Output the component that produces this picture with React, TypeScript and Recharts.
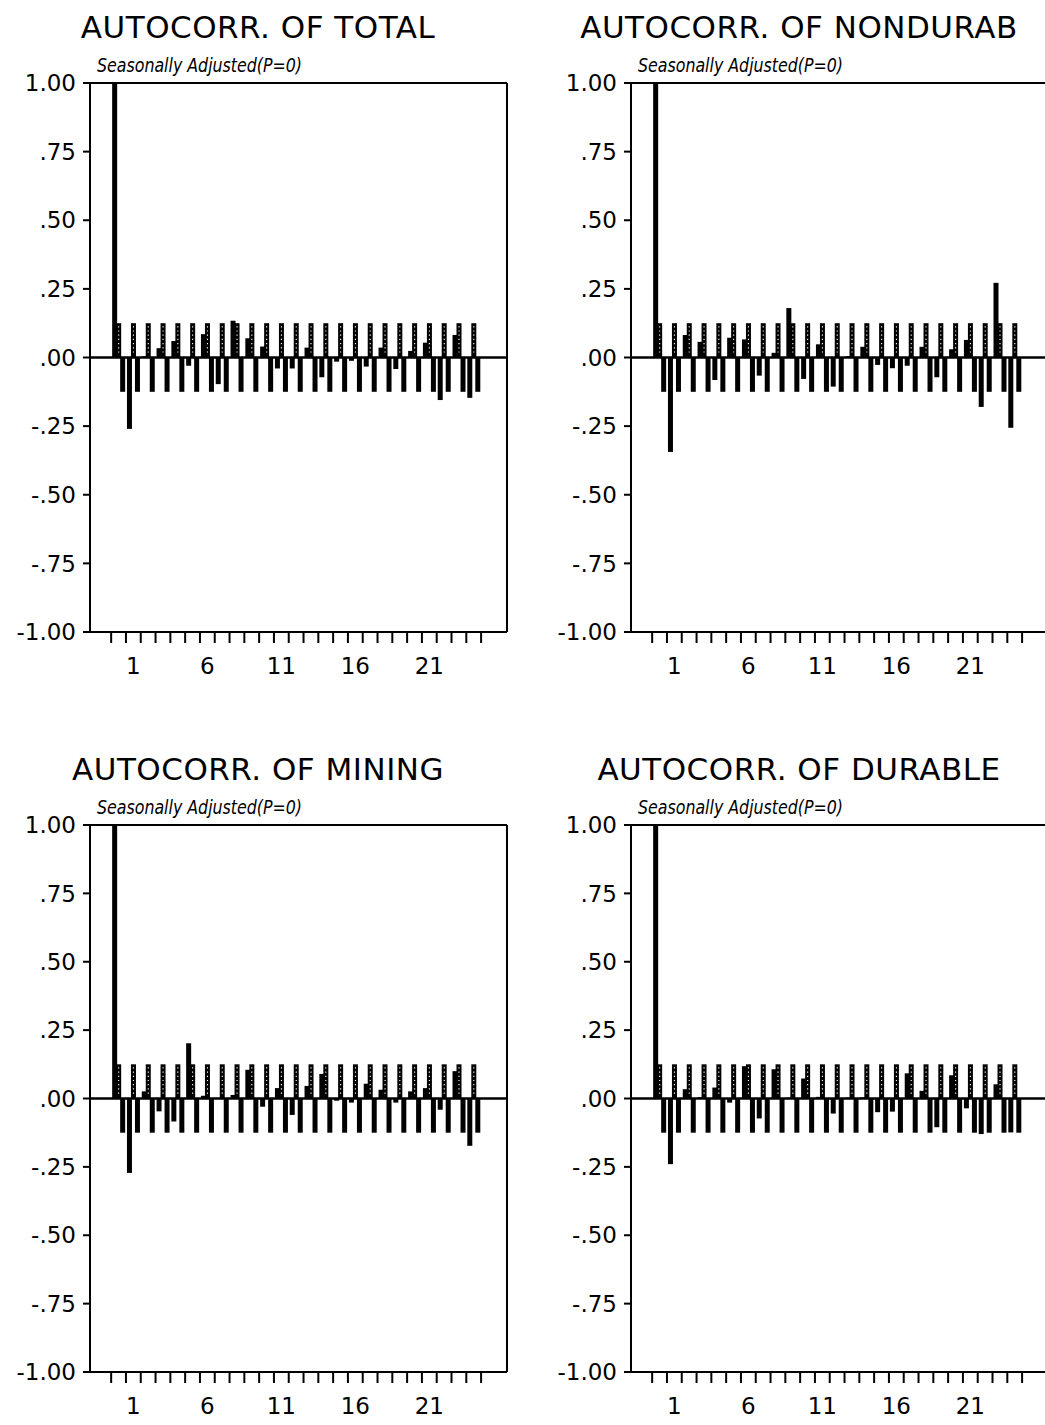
import React from "react";
import { BarChart, Bar, XAxis, YAxis, ReferenceLine } from "recharts";

const FONT = "'DejaVu Sans', sans-serif";

// lags 0..24
const lags = [0, 1, 2, 3, 4, 5, 6, 7, 8, 9, 10, 11, 12, 13, 14, 15, 16, 17, 18, 19, 20, 21, 22, 23, 24];

// autocorrelations
const acfTotal = [1, -0.26, 0.004, 0.034, 0.06, -0.03, 0.085, -0.097, 0.134, 0.07, 0.04, -0.04, -0.04, 0.036, -0.072, -0.015, -0.012, -0.033, 0.036, -0.042, 0.024, 0.054, -0.155, 0.082, -0.147];
const acfNondurab = [1, -0.344, 0.082, 0.057, -0.082, 0.072, 0.066, -0.066, 0.017, 0.18, -0.078, 0.048, -0.106, 0.005, 0.039, -0.027, -0.039, -0.03, 0.039, -0.072, 0.03, 0.064, -0.18, 0.272, -0.256];
const acfMining = [1, -0.272, 0.026, -0.047, -0.084, 0.202, 0.01, 0.002, 0.013, 0.105, -0.03, 0.038, -0.06, 0.046, 0.09, -0.008, -0.015, 0.054, 0.032, -0.015, 0.026, 0.038, -0.041, 0.1, -0.173];
const acfDurable = [1, -0.24, 0.034, 0.005, 0.04, -0.015, 0.118, -0.073, 0.107, 0.003, 0.073, 0.006, -0.055, 0.003, 0.004, -0.05, -0.048, 0.092, 0.028, -0.105, 0.085, -0.036, -0.13, 0.052, -0.124];

// confidence band (about +-0.125 at every lag)
const bandUpper = [0.125, 0.125, 0.125, 0.125, 0.125, 0.125, 0.125, 0.125, 0.125, 0.125, 0.125, 0.125, 0.125, 0.125, 0.125, 0.125, 0.125, 0.125, 0.125, 0.125, 0.125, 0.125, 0.125, 0.125, 0.125];
const bandLower = [-0.125, -0.125, -0.125, -0.125, -0.125, -0.125, -0.125, -0.125, -0.125, -0.125, -0.125, -0.125, -0.125, -0.125, -0.125, -0.125, -0.125, -0.125, -0.125, -0.125, -0.125, -0.125, -0.125, -0.125, -0.125];

const yTicks = [-1, -0.75, -0.5, -0.25, 0, 0.25, 0.5, 0.75, 1];
const xLabelTicks = [1, 6, 11, 16, 21];
const xDomain = [-1.93, 26.25];
// tick marks sit between lags
const xTickMarks = lags.map((l) => l - 0.5).concat([24.5]);

function fmtY(v: number) {
  if (v === 1) return "1.00";
  if (v === -1) return "-1.00";
  const s = Math.abs(v).toFixed(2).slice(1);
  return v < 0 ? "-" + s : s;
}

function SolidBar(props: any) {
  const { x, y, width, height } = props;
  if (x == null || !height) return null;
  const top = height < 0 ? y + height : y;
  return <rect x={x} y={top} width={width} height={Math.abs(height)} fill="#000" />;
}

function DottedBar(props: any) {
  const { x, y, width, height } = props;
  if (x == null || !height) return null;
  const top = height < 0 ? y + height : y;
  const h = Math.abs(height);
  const cx = x + width / 2;
  return (
    <g>
      <rect x={x} y={top} width={width} height={h} fill="#000" />
      <line x1={cx} y1={top + 3} x2={cx} y2={top + h - 2} stroke="#fff" strokeWidth={1.1} strokeDasharray="1.2 3" />
    </g>
  );
}

function Panel({ title, acf, left, top, height }: any) {
  const data = lags.map((lag, i) => ({ lag, acf: acf[i], upper: bandUpper[i], lower: bandLower[i] }));
  return (
    <div style={{ position: "absolute", left, top, width: 522, height: 63 + height }}>
      <svg width={522} height={82} style={{ position: "absolute", left: 0, top: 0 }}>
        <text x={258} y={38} textAnchor="middle" fontFamily={FONT} fontSize={31} letterSpacing={0.5} fill="#000">
          {title}
        </text>
        <text x={97} y={72} fontFamily={FONT} fontStyle="italic" fontSize={19} textLength={205} lengthAdjust="spacingAndGlyphs" fill="#000">
          Seasonally Adjusted(P=0)
        </text>
      </svg>
      <div style={{ position: "absolute", left: 0, top: 63 }}>
        <BarChart
          width={522}
          height={height}
          data={data}
          margin={{ top: 20, right: 15, left: 0, bottom: 0 }}
          barSize={5}
          barGap={-1}
          barCategoryGap={0}
        >
          <XAxis
            type="number"
            dataKey="lag"
            domain={xDomain}
            ticks={xTickMarks}
            interval={0}
            height={14}
            tickSize={11}
            tickFormatter={() => ""}
            axisLine={{ stroke: "#000", strokeWidth: 2 }}
            tickLine={{ stroke: "#000", strokeWidth: 2 }}
            allowDataOverflow
          />
          <XAxis
            xAxisId="lbl"
            type="number"
            dataKey="lag"
            domain={xDomain}
            ticks={xLabelTicks}
            interval={0}
            height={36}
            tickSize={0}
            tickMargin={12}
            axisLine={false}
            tickLine={false}
            tick={{ fill: "#000", fontSize: 23, fontFamily: FONT }}
            allowDataOverflow
          />
          <YAxis
            type="number"
            domain={[-1, 1]}
            ticks={yTicks}
            interval={0}
            width={90}
            tickFormatter={fmtY}
            tickSize={7}
            tickMargin={7}
            tick={{ fill: "#000", fontSize: 23, fontFamily: FONT }}
            axisLine={{ stroke: "#000", strokeWidth: 2 }}
            tickLine={{ stroke: "#000", strokeWidth: 2 }}
          />
          <Bar dataKey="acf" shape={SolidBar} isAnimationActive={false} />
          <Bar dataKey="upper" shape={DottedBar} isAnimationActive={false} />
          <Bar dataKey="lower" shape={SolidBar} isAnimationActive={false} />
          <ReferenceLine y={0} stroke="#000" strokeWidth={2.5} />
          <ReferenceLine y={1} stroke="#000" strokeWidth={2} />
          <ReferenceLine x={xDomain[1]} stroke="#000" strokeWidth={2} />
        </BarChart>
      </div>
    </div>
  );
}

export default function App() {
  return (
    <div style={{ position: "absolute", left: 0, top: 0, width: 1045, height: 1425, overflow: "hidden", background: "#fff" }}>
      <Panel title="AUTOCORR. OF TOTAL" acf={acfTotal} left={0} top={0} height={619} />
      <Panel title="AUTOCORR. OF NONDURAB" acf={acfNondurab} left={541} top={0} height={619} />
      <Panel title="AUTOCORR. OF MINING" acf={acfMining} left={0} top={742} height={617} />
      <Panel title="AUTOCORR. OF DURABLE" acf={acfDurable} left={541} top={742} height={617} />
    </div>
  );
}
